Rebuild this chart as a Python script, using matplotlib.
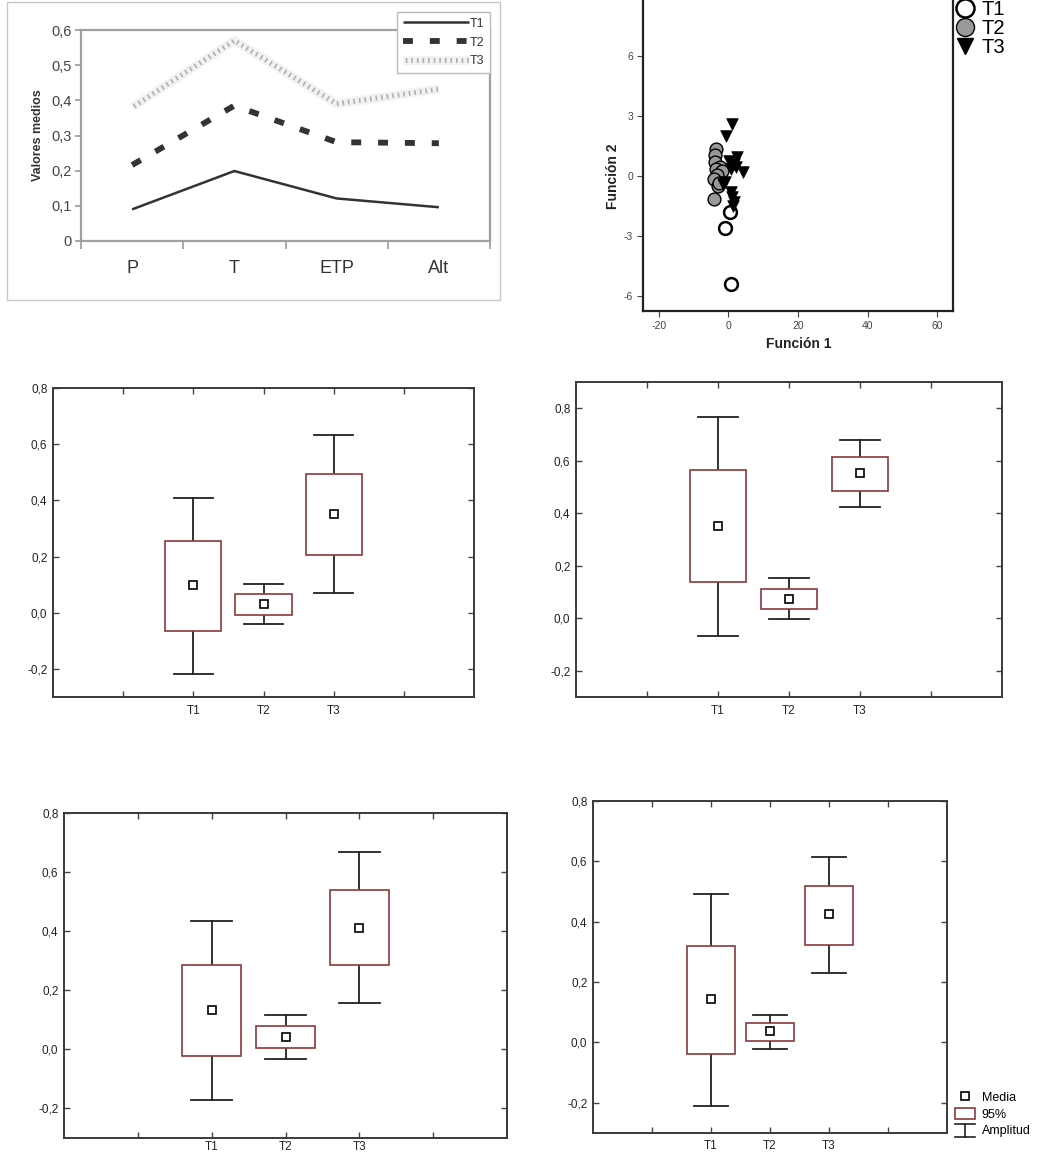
import matplotlib
matplotlib.use("Agg")
import matplotlib.pyplot as plt
from matplotlib.lines import Line2D
from matplotlib.patches import Patch, Rectangle
from matplotlib.legend_handler import HandlerBase, HandlerTuple
from matplotlib.ticker import FuncFormatter, FixedLocator

plt.rcParams['font.family'] = ['Liberation Sans', 'DejaVu Sans']
plt.rcParams['axes.unicode_minus'] = False

# ---------------- data ----------------
# Panel 1: mean values per variable
variables = ["P", "T", "ETP", "Alt"]
t1_means = [0.090, 0.199, 0.121, 0.096]
t2_means = [0.216, 0.385, 0.281, 0.278]
t3_means = [0.380, 0.570, 0.390, 0.432]
line_yticks = [0, 0.1, 0.2, 0.3, 0.4, 0.5, 0.6]

# Panel 2: discriminant scores
t1_f1 = [0.3, -1.0, 0.6]
t1_f2 = [-1.8, -2.6, -5.4]
t2_f1 = [-3.6, -4.0, -3.8, -2.5, -3.7, -1.8, -3.3, -4.2, -3.1, -4.1, -2.8]
t2_f2 = [1.37, 1.05, 0.72, 0.45, 0.35, 0.25, 0.05, -0.17, -0.52, -1.13, -0.35]
t3_f1 = [1.15, -0.7, 2.5, 0.1, 1.5, 2.3, 4.1, 0.8, -0.9, -1.6, 0.8, 1.1, 1.7, 1.4]
t3_f2 = [2.6, 1.98, 0.95, 0.75, 0.6, 0.45, 0.2, 0.35, -0.3, -0.4, -0.8, -1.05, -1.3, -1.5]
f1_ticks = [-20, 0, 20, 40, 60]
f2_ticks = [-6, -3, 0, 3, 6]

# Box panels: groups, means, 95% intervals, ranges
groups = ["T1", "T2", "T3"]
box_yticks = [-0.2, 0.0, 0.2, 0.4, 0.6, 0.8]

b3_mean = [0.097, 0.031, 0.351]
b3_lo95 = [-0.064, -0.007, 0.207]
b3_hi95 = [0.256, 0.065, 0.493]
b3_min = [-0.217, -0.040, 0.069]
b3_max = [0.410, 0.103, 0.633]

b4_mean = [0.351, 0.075, 0.553]
b4_lo95 = [0.139, 0.037, 0.486]
b4_hi95 = [0.563, 0.113, 0.616]
b4_min = [-0.068, -0.003, 0.425]
b4_max = [0.768, 0.152, 0.678]

b5_mean = [0.132, 0.042, 0.412]
b5_lo95 = [-0.023, 0.003, 0.284]
b5_hi95 = [0.284, 0.080, 0.540]
b5_min = [-0.173, -0.033, 0.157]
b5_max = [0.434, 0.116, 0.668]

b6_mean = [0.144, 0.038, 0.424]
b6_lo95 = [-0.039, 0.006, 0.324]
b6_hi95 = [0.319, 0.065, 0.519]
b6_min = [-0.209, -0.021, 0.230]
b6_max = [0.493, 0.092, 0.613]

# ---------------- figure ----------------
W, H = 1050, 1155
fig = plt.figure(figsize=(W / 100, H / 100), dpi=100)


def ax_px(left, top, right, bottom):
    return fig.add_axes([left / W, 1 - bottom / H, (right - left) / W, (bottom - top) / H])


comma = FuncFormatter(lambda v, p: ("%.1f" % v).replace(".", ",") if abs(v) > 1e-9 else ("0,0"))

# ---------- Panel 1: line chart ----------
fig.patches.append(Rectangle((7 / W, 1 - 300 / H), 493 / W, 298 / H, transform=fig.transFigure,
                             fill=False, edgecolor='#c8c8c8', lw=1.0))
ax1 = ax_px(81, 30, 490, 241)
xc = [i + 0.5 for i in range(len(variables))]
l1, = ax1.plot(xc, t1_means, color='#333333', lw=1.8, solid_capstyle='butt')
l2, = ax1.plot(xc, t2_means, color='#333333', lw=4.2, linestyle=(0, (1.7, 2.9)), dash_capstyle='butt')
l3a, = ax1.plot(xc, t3_means, color='#f2f2f2', lw=6.5, solid_capstyle='butt')
l3c, = ax1.plot(xc, t3_means, color='#b0b0b0', lw=3.5, linestyle=(0.7, (0.35, 0.8)))
ax1.set_xlim(0, len(variables))
ax1.set_ylim(0, 0.6)
ax1.set_yticks(line_yticks)
ax1.yaxis.set_major_formatter(FuncFormatter(lambda v, p: "0" if v == 0 else ("%.1f" % v).replace(".", ",")))
ax1.xaxis.set_major_locator(FixedLocator(range(len(variables) + 1)))
ax1.xaxis.set_major_formatter(FuncFormatter(lambda v, p: ""))
ax1.xaxis.set_minor_locator(FixedLocator(xc))
ax1.set_xticklabels(variables, minor=True)
ax1.tick_params(axis='x', which='minor', length=0, labelsize=13, labelcolor='#333333', pad=14)
ax1.tick_params(axis='x', which='major', length=6, color='#999999', width=1.2, direction='out')
ax1.tick_params(axis='y', length=4, color='#999999', width=1.2, labelsize=10.5, labelcolor='#444444', pad=3)
for s in ax1.spines.values():
    s.set_color('#a0a0a0')
    s.set_linewidth(1.6)
fig.text(38 / W, 1 - 135 / H, "Valores medios", rotation=90, ha='center', va='center',
         fontsize=9, fontweight='bold', color='#333333')
leg1 = ax1.legend([l1, l2, (l3a, l3c)], ["T1", "T2", "T3"], handler_map={tuple: HandlerTuple(ndivide=1, pad=0)},
                  loc='upper left', bbox_to_anchor=(397 / W, 1 - 12 / H), bbox_transform=fig.transFigure,
                  fontsize=9, handlelength=5.3, handletextpad=0.1, labelspacing=0.55, borderpad=0.45,
                  fancybox=False, edgecolor='#bbbbbb', framealpha=1, borderaxespad=0)
for t in leg1.get_texts():
    t.set_color('#333333')
leg1.get_frame().set_linewidth(1.0)

# ---------- Panel 2: scatter ----------
ax2 = ax_px(643, -4, 953, 311)
ax2.scatter(t1_f1, t1_f2, s=85, facecolor='white', edgecolor='black', linewidth=1.8, zorder=3)
ax2.scatter(t2_f1, t2_f2, s=85, facecolor='#999999', edgecolor='black', linewidth=1.0, zorder=2)
ax2.scatter(t3_f1, t3_f2, s=70, marker='v', facecolor='black', edgecolor='black', linewidth=0.5, zorder=4)
ax2.set_xlim(-24.6, 64.6)
ax2.set_ylim(-6.75, 9.0)
ax2.set_xticks(f1_ticks)
ax2.set_yticks(f2_ticks)
ax2.tick_params(length=4, width=0.8, labelsize=7.5, labelcolor='#444444', color='#444444', pad=3)
for s in ax2.spines.values():
    s.set_linewidth(1.6)
    s.set_color('#222222')
fig.text(613 / W, 1 - 176 / H, "Función 2", rotation=90, ha='center', va='center',
         fontsize=10, fontweight='bold', color='#222222')
fig.text(799 / W, 1 - 344 / H, "Función 1", ha='center', va='center',
         fontsize=10, fontweight='bold', color='#222222')
h_t1 = Line2D([], [], marker='o', ls='none', markersize=13, mfc='white', mec='black', mew=1.8)
h_t2 = Line2D([], [], marker='o', ls='none', markersize=13, mfc='#999999', mec='black', mew=1.0)
h_t3 = Line2D([], [], marker='v', ls='none', markersize=12, mfc='black', mec='black')
leg2 = fig.legend([h_t1, h_t2, h_t3], ["T1", "T2", "T3"], loc='upper left',
                  bbox_to_anchor=(955 / W, 1.0), frameon=False,
                  prop={'family': ['Liberation Sans Narrow', 'Liberation Sans'], 'size': 14.5},
                  handlelength=1.0, handletextpad=0.3, labelspacing=0.0, borderaxespad=0, borderpad=0)

# ---------- Box panels ----------
BOXC = '#8b3a3a'


def box_panel(rect, ylim, means, lo95, hi95, mins, maxs, xpad=6):
    ax = ax_px(*rect)
    xs = [2, 3, 4]
    for x, m, lo, hi, mn, mx in zip(xs, means, lo95, hi95, mins, maxs):
        ax.add_patch(Rectangle((x - 0.4, lo), 0.8, hi - lo, facecolor='white', edgecolor=BOXC, lw=1.2, zorder=2))
        ax.plot([x, x], [mn, lo], color='#222222', lw=1.3, zorder=1)
        ax.plot([x, x], [hi, mx], color='#222222', lw=1.3, zorder=1)
        ax.plot([x - 0.28, x + 0.28], [mn, mn], color='#222222', lw=1.3, zorder=1)
        ax.plot([x - 0.28, x + 0.28], [mx, mx], color='#222222', lw=1.3, zorder=1)
    ax.plot(xs, means, ls='none', marker='s', markersize=5.5, mfc='white', mec='black', mew=1.2, zorder=3)
    ax.set_xlim(0, 6)
    ax.set_ylim(*ylim)
    ax.set_xticks([1, 2, 3, 4, 5])
    ax.set_xticklabels(["", groups[0], groups[1], groups[2], ""])
    ax.set_yticks(box_yticks)
    ax.yaxis.set_major_formatter(comma)
    ax.tick_params(direction='in', length=4, width=1.0, color='#444444', top=True, right=True,
                   labelsize=8.5, labelcolor='#222222')
    ax.tick_params(axis='y', pad=4)
    ax.tick_params(axis='x', pad=xpad)
    for s in ax.spines.values():
        s.set_linewidth(1.4)
        s.set_color('#3a3a3a')
    return ax


box_panel((53, 388, 474, 697), (-0.3, 0.8), b3_mean, b3_lo95, b3_hi95, b3_min, b3_max)
box_panel((576, 382, 1002, 697), (-0.3, 0.9), b4_mean, b4_lo95, b4_hi95, b4_min, b4_max)
box_panel((64, 813, 507, 1138), (-0.3, 0.8), b5_mean, b5_lo95, b5_hi95, b5_min, b5_max, xpad=2.5)
box_panel((593, 801, 947, 1133), (-0.3, 0.8), b6_mean, b6_lo95, b6_hi95, b6_min, b6_max, xpad=5)


class IBeamHandler(HandlerBase):
    def create_artists(self, legend, orig_handle, xdescent, ydescent, width, height, fontsize, trans):
        x0, y0 = -xdescent, -ydescent
        top = y0 + height * 1.0
        bot = y0 - height * 0.15
        arts = [Line2D([x0, x0 + width], [top, top]),
                Line2D([x0 + width / 2, x0 + width / 2], [bot, top]),
                Line2D([x0, x0 + width], [bot, bot])]
        for a in arts:
            a.set_color('#222222')
            a.set_linewidth(1.2)
            a.set_transform(trans)
        return arts


h_mean = Line2D([], [], marker='s', ls='none', markersize=5.5, mfc='white', mec='black', mew=1.2)
h_box = Patch(facecolor='white', edgecolor=BOXC, lw=1.2)
h_rng = Line2D([], [])
fig.legend([h_mean, h_box, h_rng], ["Media", "95%", "Amplitud"], handler_map={h_rng: IBeamHandler()},
           loc='upper left', bbox_to_anchor=(955 / W, 1 - 1091 / H), frameon=False, fontsize=9,
           handlelength=1.6, handleheight=1.0, handletextpad=0.55, labelspacing=0.3,
           borderaxespad=0, borderpad=0)

fig.savefig("out.png", dpi=100)
